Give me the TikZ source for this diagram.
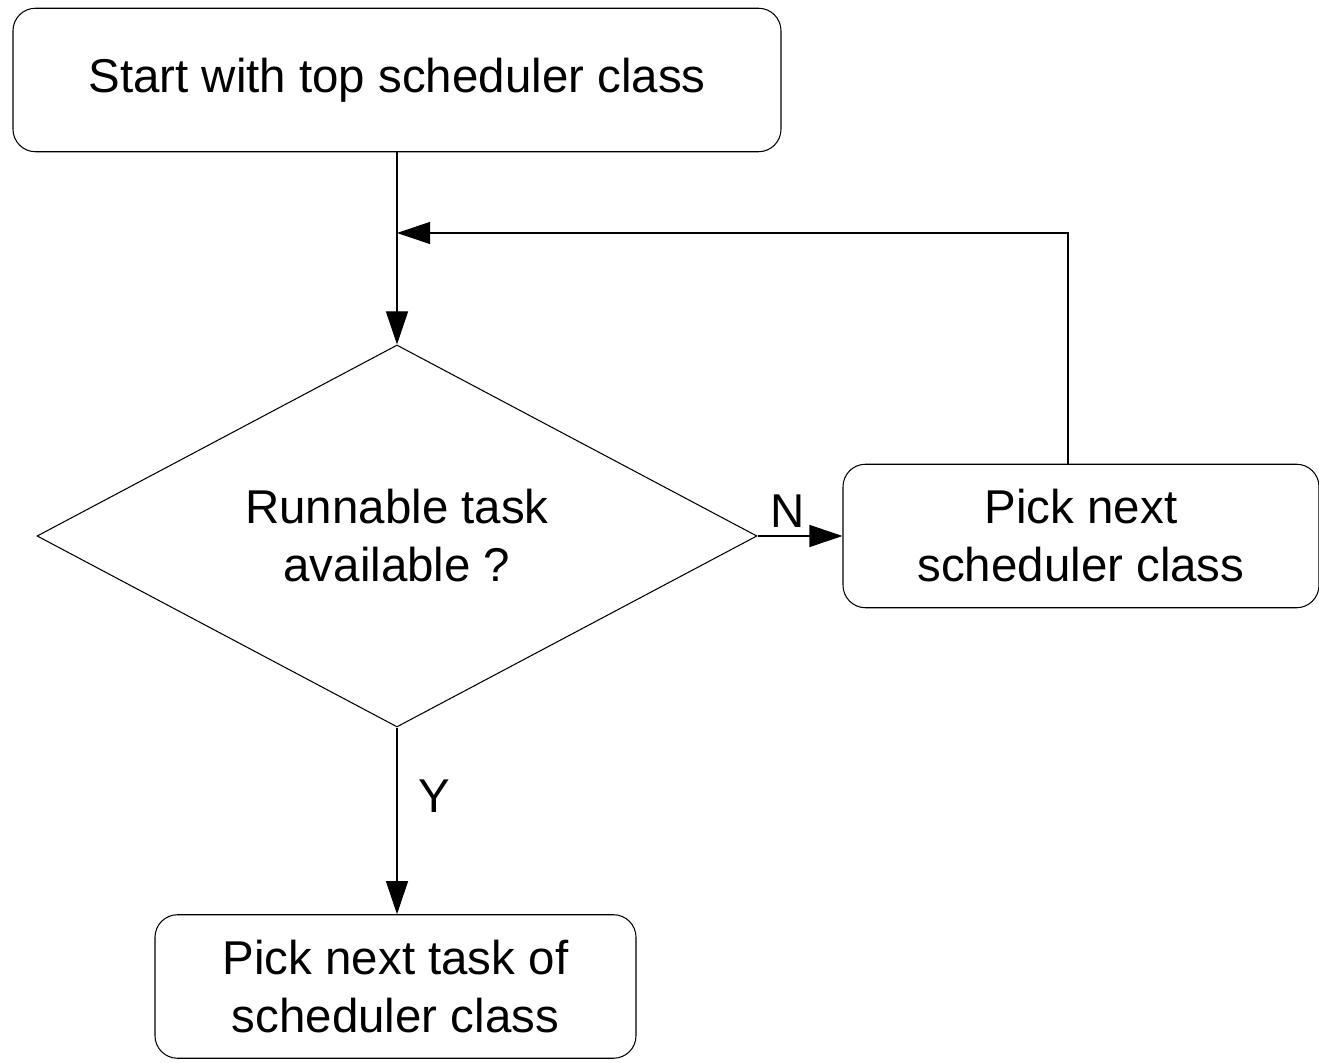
\documentclass[tikz,border=0pt]{standalone}
\usepackage{fontspec}
\setmainfont{Liberation Sans}
\usepackage{tikz}
\usetikzlibrary{positioning,arrows.meta,shapes.geometric,calc}

\begin{document}
\begin{tikzpicture}[line width=0.6pt, font=\fontsize{27}{33}\selectfont,
    box/.style={draw, rounded corners=0.45cm, align=center, inner sep=0pt},
    decision/.style={draw, diamond, inner sep=0pt},
    flow/.style={-{Triangle[length=0.66cm, width=0.44cm]}}]
    \useasboundingbox (0,0) rectangle (26.38,21.24);
    \def\bh{2.87cm}
    \node[box, minimum width=15.36cm, minimum height=\bh]
      (start) at (7.94, 19.64) {Start with top scheduler class};
    \node[decision, minimum width=14.4cm, minimum height=7.64cm]
      (avail) at (7.94, 10.52) {};
    \node[align=center] (availtxt) at (avail.center) {Runnable task\\available ?};
    \node[box, minimum width=9.52cm, minimum height=\bh]
      (nextcls) at (21.62, 10.52) {Pick next\\scheduler class};
    \node[box, minimum width=9.62cm, minimum height=\bh]
      (nexttask) at (7.91, 1.51) {Pick next task of\\scheduler class};
    % loop back junction
    \coordinate (join) at (7.94, 16.58);
    \coordinate (up) at (21.36, 16.58);
    \draw[flow] (start.south) -- (avail.north);
    \draw[flow] (avail.east) -- (nextcls.west)
      node[pos=0.35, above=0.05cm] {N};
    \draw[flow] (nextcls.north -| up) -- (up) -- (join);
    \draw[flow] (avail.south) -- (avail.south |- nexttask.north)
      node[pos=0.37, right=0.3cm] {Y};
\end{tikzpicture}
\end{document}
